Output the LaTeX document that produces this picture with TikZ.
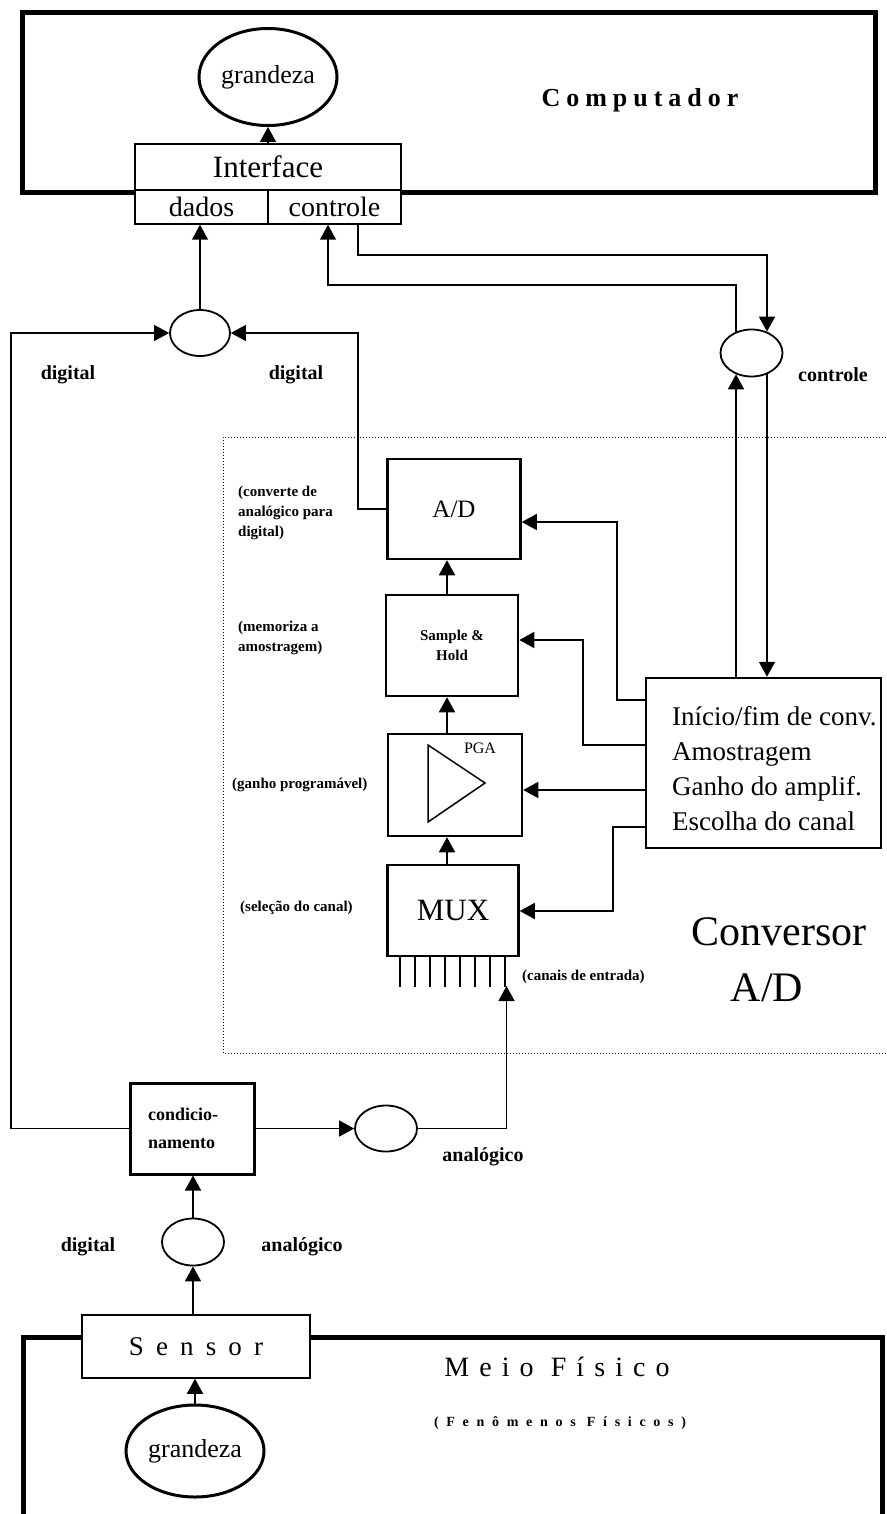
\documentclass[tikz,border=0pt]{standalone}
\usepackage{fontspec}
\setmainfont{Liberation Serif}
\usetikzlibrary{arrows.meta,shapes.geometric,calc}
\begin{document}
\begin{tikzpicture}[x=1pt,y=-1pt,
  arr/.style={line width=1.6pt,-{Triangle[length=15pt,width=16pt]}},
  ln/.style={line width=1.6pt},
  blk/.style={draw,line width=2.5pt,rectangle,inner sep=0pt},
  ell/.style={draw,ellipse,line width=1.8pt,minimum width=62pt,minimum height=46pt,inner sep=0pt},
  bigell/.style={draw,ellipse,line width=3pt,inner sep=0pt,font=\fontsize{26}{30}\selectfont},
  ifbox/.style={draw,line width=1.5pt,fill=white,inner sep=0pt,font=\fontsize{28}{32}\selectfont},
  lab/.style={font=\bfseries\fontsize{20}{24}\selectfont,inner sep=0pt},
  note/.style={font=\bfseries\fontsize{15}{20}\selectfont,inner sep=0pt,anchor=west,align=left},
  ctext/.style={font=\fontsize{27}{30}\selectfont,inner sep=0pt,anchor=base west},
]
\useasboundingbox (0,0) rectangle (886,1514);

% ---------- Computador ----------
\node[draw,line width=5pt,minimum width=853pt,minimum height=180pt,inner sep=0pt] (comp) at (448.5,103) {};
\node[font=\bfseries\fontsize{26}{30}\selectfont\addfontfeature{LetterSpace=23}] (comptxt) at (640,100) {Computador};
\node[bigell,minimum width=138pt,minimum height=97pt] (g1) at (268,77) {grandeza};
\node[ifbox,minimum width=266pt,minimum height=46pt,font=\fontsize{31}{34}\selectfont] (ifc) at (268,167) {Interface};
\node[ifbox,minimum width=133pt,minimum height=34pt] (dados) at (201.5,207) {dados};
\node[ifbox,minimum width=133pt,minimum height=34pt] (ctl) at (334.5,207) {controle};
\draw[arr] (ifc.north -| g1.south) -- (g1.south);

% ---------- junction ellipses ----------
\node[ell,minimum width=60pt] (e1) at (200,333) {};
\node[ell,minimum height=47pt] (e2) at (751.5,353) {};
\draw[arr] (e1.north) -- (e1.north |- dados.south);

\coordinate (k1) at (358,255);
\draw[arr] (ctl.south -| k1) -- (k1) -| (e2.54);
\coordinate (k2) at (328,285);
\draw[arr] (e2.126) |- (k2) -- (k2 |- ctl.south);

\node[lab] (ldig1) at (68,375) {digital};
\node[lab] (ldig2) at (296,375) {digital};
\node[lab] (lctl) at (833,375) {controle};

% ---------- Conversor A/D ----------
\draw[dotted,line width=1pt] (886,437) -- (223,437) -- (223,1053) -- (886,1053);

\node[blk,minimum width=133pt,minimum height=100pt,font=\fontsize{25}{30}\selectfont] (ad) at (454,509) {A/D};
\node[blk,minimum width=132pt,minimum height=101pt,font=\bfseries\fontsize{15}{20}\selectfont,align=center] (sh) at (452,645.5) {Sample \&\\Hold};
\node[blk,minimum width=134pt,minimum height=102pt] (pga) at (455,785) {};
\node[blk,minimum width=131pt,minimum height=91pt,font=\fontsize{31}{34}\selectfont] (mux) at (453,910.5) {MUX};
\draw[line width=1.5pt] (428,745) -- (485,783) -- (428,822) -- cycle;
\node[font=\fontsize{16}{18}\selectfont,inner sep=0pt] (pgatxt) at (480,748) {PGA};

\coordinate (cx) at (447,0);
\draw[arr] (sh.north -| cx) -- (ad.south -| cx);
\draw[arr] (pga.north -| cx) -- (sh.south -| cx);
\draw[arr] (mux.north -| cx) -- (pga.south -| cx);

\foreach \i in {0,...,7}
  \draw[ln] ([xshift=\i*15pt+14pt]mux.south west) -- ++(0,30);

\node[blk,minimum width=235pt,minimum height=170pt] (ctrl) at (763.5,763) {};
\node[ctext] (c1) at (672,725) {Início/fim de conv.};
\node[ctext] (c2) at (672,760) {Amostragem};
\node[ctext] (c3) at (672,795) {Ganho do amplif.};
\node[ctext] (c4) at (672,830) {Escolha do canal};

\draw[arr] (ctrl.north -| e2.234) -- (e2.234);
\draw[arr] (e2.306) -- (ctrl.north -| e2.306);

\coordinate (p1) at (617,700);
\coordinate (q1) at (617,522);
\draw[arr] (ctrl.west |- p1) -- (p1) -- (q1) -- (q1 -| ad.east);
\coordinate (p2) at (583,745);
\coordinate (q2) at (583,640);
\draw[arr] (ctrl.west |- p2) -- (p2) -- (q2) -- (q2 -| sh.east);
\coordinate (p3) at (600,790);
\draw[arr] (ctrl.west |- p3) -- (p3 -| pga.east);
\coordinate (p4) at (613,827);
\coordinate (q4) at (613,911);
\draw[arr] (ctrl.west |- p4) -- (p4) -- (q4) -- (q4 -| mux.east);

\node[note] (n1) at (238,513) {(converte de\\analógico para\\digital)};
\node[note] (n2) at (238,638) {(memoriza a\\amostragem)};
\node[note] (n3) at (232,785) {(ganho programável)};
\node[note] (n4) at (240,908) {(seleção do canal)};
\node[note] (n5) at (522,977) {(canais de entrada)};

\node[font=\fontsize{42}{46}\selectfont,inner sep=0pt] (conv) at (779,932) {Conversor};
\node[font=\fontsize{42}{46}\selectfont,inner sep=0pt] (convad) at (767,988) {A/D};

% ---------- condicionamento ----------
\node[blk,line width=3pt,minimum width=124pt,minimum height=91pt,inner sep=0pt] (cond) at (192,1128.5) {};
\node[font=\bfseries\fontsize{18}{28}\selectfont,align=left,anchor=west,inner sep=0pt] (condtxt) at (148,1128.5) {condicio-\\namento};
\node[ell] (e3) at (386,1128.5) {};
\node[ell,minimum height=47pt] (e4) at (193,1242) {};

\coordinate (lft) at (11,0);
\draw[arr] (cond.west) -| (lft |- e1.west) -- (e1.west);
\coordinate (rt) at (358,0);
\draw[arr] (ad.west) -| (rt |- e1.east) -- (e1.east);

\draw[arr] (cond.east) -- (e3.west);
\coordinate (ch) at (506.5,986);
\draw[arr] (e3.east) -| (ch);
\draw[arr] (e4.north) -- (e4.north |- cond.south);

\node[lab] (lan1) at (483,1157) {analógico};
\node[lab] (ldig3) at (88,1247) {digital};
\node[lab] (lan2) at (302,1247) {analógico};

% ---------- Meio Fisico ----------
\draw[line width=5pt] (23,1516) -- (23,1337) -- (882,1337) -- (882,1516);
\node[draw,line width=1.5pt,fill=white,minimum width=228pt,minimum height=63pt,inner sep=0pt,font=\fontsize{27}{30}\selectfont\addfontfeature{LetterSpace=45}] (sensor) at (196,1346.5) {Sensor};
\node[bigell,minimum width=138pt,minimum height=92pt] (g2) at (195,1451) {grandeza};
\draw[arr] (sensor.north -| e4.south) -- (e4.south);
\draw[arr] (g2.north) -- (g2.north |- sensor.south);

\node[font=\fontsize{28}{32}\selectfont\addfontfeature{LetterSpace=36}] (meio) at (557,1367) {Meio Físico};
\node[font=\bfseries\fontsize{14}{18}\selectfont\addfontfeature{LetterSpace=55}] (fen) at (560,1423) {(Fenômenos Físicos)};
\end{tikzpicture}
\end{document}
